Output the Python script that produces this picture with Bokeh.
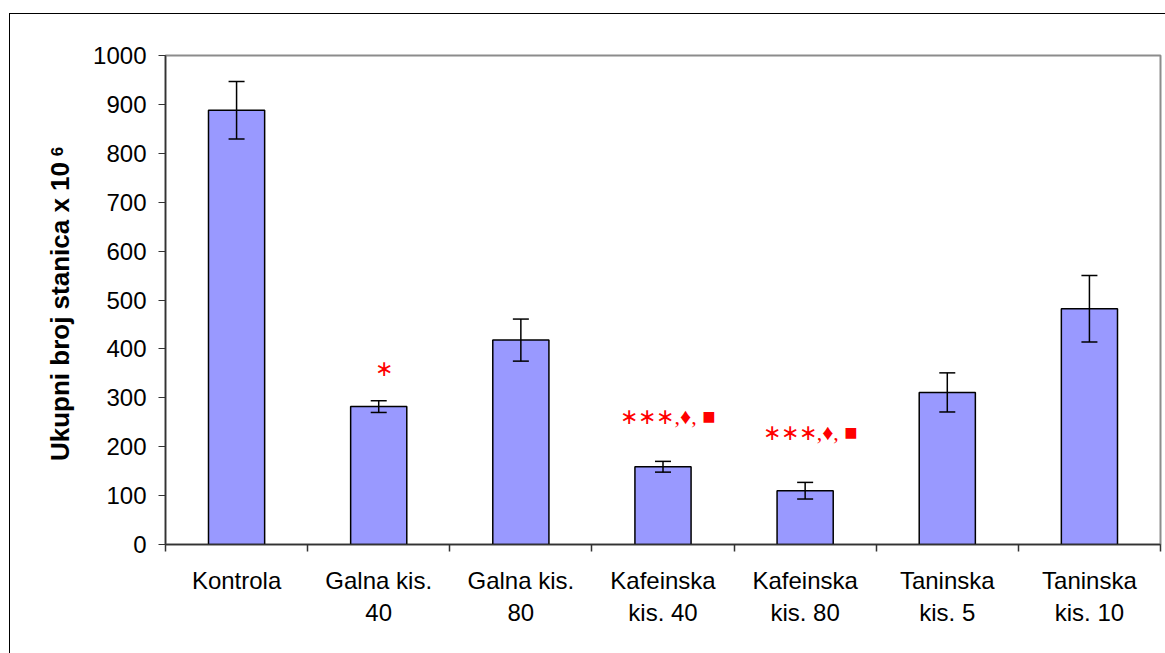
import math
from bokeh.plotting import figure
from bokeh.layouts import row
from bokeh.models import ColumnDataSource, FixedTicker, Whisker, TeeHead, Range1d
from bokeh.core.properties import value
from bokeh.embed import file_html
from bokeh.resources import INLINE

categories = ["Kontrola", "Galna kis.\n40", "Galna kis.\n80", "Kafeinska\nkis. 40",
              "Kafeinska\nkis. 80", "Taninska\nkis. 5", "Taninska\nkis. 10"]
means = [888, 282, 418, 159, 110, 311, 482]
errors = [59, 12, 43, 11, 17, 40, 68]
y_ticks = [0, 100, 200, 300, 400, 500, 600, 700, 800, 900, 1000]
y_title = "Ukupni broj stanica x 10"
y_title_sup = "6"

annot_idx = [1, 3, 4]
annot_y = [359, 261, 230]
annot_text = ["\u2217", "\u2217\u2217\u2217,\u2666, \u25a0", "\u2217\u2217\u2217,\u2666, \u25a0"]

# ---------- page geometry (row sits at 9,13 with a 1px black left/top border) ----------
TOP = 14
LEFT = 10
TOTAL_H = 653 - TOP
TITLE_W = 75           # page x 10 .. 85
MAIN_W = 1165 - LEFT - TITLE_W
FRAME_TOP, FRAME_BOTTOM = 55, 544

# ---------- title panel (data x = page x, data y = 653 - page y) ----------
# the row aligns this panel's frame with the chart frame (page y 55..544)
t = figure(width=TITLE_W, height=TOTAL_H, output_backend="svg", toolbar_location=None,
           x_range=Range1d(LEFT, LEFT + TITLE_W),
           y_range=Range1d(653 - FRAME_BOTTOM, 653 - FRAME_TOP),
           min_border=0)
t.axis.visible = False
t.grid.visible = False
t.outline_line_color = None
t.text(x=[59], y=[653 - 311], text=[y_title], angle=math.pi / 2,
       text_font=value("Liberation Sans"), text_font_style="bold",
       text_font_size="26px", text_color="black",
       text_align="center", text_baseline="middle")
t.text(x=[56], y=[653 - 151], text=[y_title_sup], angle=math.pi / 2,
       text_font=value("Liberation Sans"), text_font_style="bold",
       text_font_size="17px", text_color="black",
       text_align="center", text_baseline="middle")

# ---------- main chart ----------
xs = [i + 0.5 for i in range(len(categories))]
src = ColumnDataSource(dict(
    x=xs, top=means,
    upper=[m + e for m, e in zip(means, errors)],
    lower=[m - e for m, e in zip(means, errors)],
))

p = figure(width=MAIN_W, height=TOTAL_H, output_backend="svg", toolbar_location=None,
           x_range=Range1d(0, len(categories)), y_range=Range1d(0, 1000),
           min_border_left=165 - LEFT - TITLE_W, min_border_right=5,
           min_border_top=FRAME_TOP - TOP, min_border_bottom=653 - FRAME_BOTTOM)
p.grid.visible = False
p.outline_line_color = "#8c8c8c"
p.outline_line_width = 2
p.background_fill_color = "white"

p.vbar(x="x", top="top", width=0.395, source=src, fill_color="#9999FF",
       line_color="black", line_width=1.5)
p.add_layout(Whisker(source=src, base="x", upper="upper", lower="lower",
                     line_color="black", line_width=1.5, level="overlay",
                     upper_head=TeeHead(size=16, line_color="black", line_width=1.5),
                     lower_head=TeeHead(size=16, line_color="black", line_width=1.5)))

p.text(x=[xs[i] for i in annot_idx], y=annot_y, text=annot_text, x_offset=5,
       text_color="#FF0000", text_font=value("Liberation Serif"),
       text_font_size="22px", text_align="center", text_baseline="alphabetic")

ya = p.yaxis[0]
ya.ticker = FixedTicker(ticks=y_ticks)
ya.axis_line_color = "#333333"
ya.axis_line_width = 1.5
ya.major_tick_line_color = "#333333"
ya.major_tick_out = 7
ya.major_tick_in = 0
ya.minor_tick_line_color = None
ya.major_label_text_font = "Liberation Sans"
ya.major_label_text_font_size = "24px"
ya.major_label_text_color = "black"
ya.major_label_standoff = 12

xa = p.xaxis[0]
xa.ticker = FixedTicker(ticks=xs, minor_ticks=list(range(len(categories) + 1)))
xa.major_label_overrides = {x: c for x, c in zip(xs, categories)}
xa.axis_line_color = "#333333"
xa.axis_line_width = 1.5
xa.major_tick_line_color = None
xa.minor_tick_line_color = "#333333"
xa.minor_tick_line_width = 1.5
xa.minor_tick_out = 7
xa.minor_tick_in = 0
xa.major_label_text_font = "Liberation Sans"
xa.major_label_text_font_size = "24px"
xa.major_label_text_color = "black"
xa.major_label_standoff = 15

layout = row(t, p, spacing=0)
layout.styles = {"border-left": "1px solid black", "border-top": "1px solid black",
                 "margin-left": "9px", "margin-top": "13px"}

open("out.html", "w").write(file_html(layout, INLINE))
